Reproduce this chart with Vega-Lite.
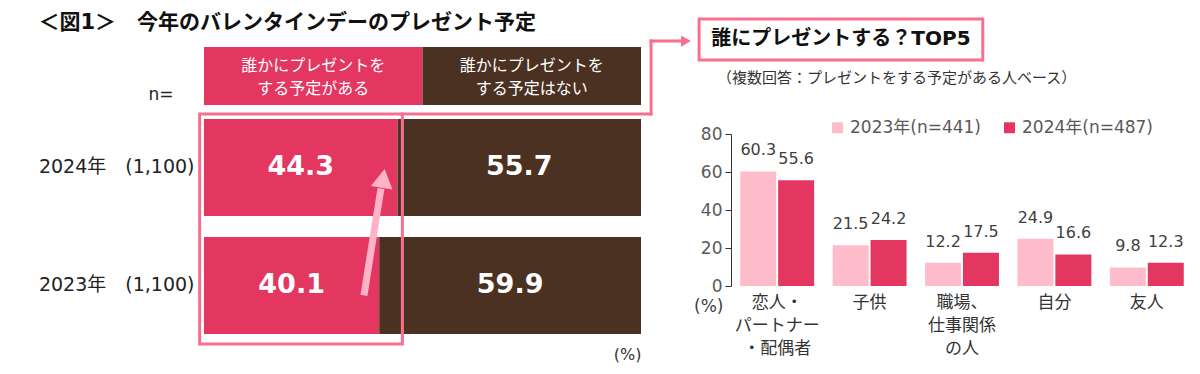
{
  "$schema": "https://vega.github.io/schema/vega-lite/v6.json",
  "padding": {"left": 38, "top": 12, "right": 4, "bottom": 4},
  "config": {
    "font": "DejaVu Sans, Noto Sans CJK JP",
    "view": {"stroke": null}
  },
  "datasets": {
    "share": [
      {"year": "2024年　(1,100)", "answer": "誰かにプレゼントを\nする予定がある", "value": 44.3},
      {"year": "2024年　(1,100)", "answer": "誰かにプレゼントを\nする予定はない", "value": 55.7},
      {"year": "2023年　(1,100)", "answer": "誰かにプレゼントを\nする予定がある", "value": 40.1},
      {"year": "2023年　(1,100)", "answer": "誰かにプレゼントを\nする予定はない", "value": 59.9}
    ],
    "top5": [
      {"who": "恋人・ パートナー ・配偶者", "year": "2023年(n=441)", "value": 60.3},
      {"who": "恋人・ パートナー ・配偶者", "year": "2024年(n=487)", "value": 55.6},
      {"who": "子供", "year": "2023年(n=441)", "value": 21.5},
      {"who": "子供", "year": "2024年(n=487)", "value": 24.2},
      {"who": "職場、 仕事関係 の人", "year": "2023年(n=441)", "value": 12.2},
      {"who": "職場、 仕事関係 の人", "year": "2024年(n=487)", "value": 17.5},
      {"who": "自分", "year": "2023年(n=441)", "value": 24.9},
      {"who": "自分", "year": "2024年(n=487)", "value": 16.6},
      {"who": "友人", "year": "2023年(n=441)", "value": 9.8},
      {"who": "友人", "year": "2024年(n=487)", "value": 12.3}
    ]
  },
  "resolve": {"scale": {"color": "independent"}, "legend": {"color": "independent"}},
  "spacing": 2,
  "hconcat": [
    {
      "title": {"text": "＜図1＞　今年のバレンタインデーのプレゼント予定", "anchor": "start", "fontSize": 21, "fontWeight": "bold", "color": "#111111", "offset": 2},
      "spacing": 9,
      "bounds": "flush",
      "vconcat": [
        {
          "width": 437,
          "height": 58,
          "data": {"name": "share"},
          "transform": [{"filter": "datum.year == '2024年　(1,100)'"}],
          "encoding": {
            "x": {"field": "answer", "type": "nominal", "sort": "ascending", "scale": {"paddingInner": 0, "paddingOuter": 0}, "axis": null}
          },
          "layer": [
            {
              "mark": {"type": "bar"},
              "encoding": {
                "color": {"field": "answer", "type": "nominal", "scale": {"domain": ["誰かにプレゼントを\nする予定がある", "誰かにプレゼントを\nする予定はない"], "range": ["#E33762", "#4A3121"]}, "legend": null}
              }
            },
            {
              "mark": {"type": "text", "lineBreak": "\n", "fontSize": 16, "lineHeight": 23, "dy": -10, "color": "white", "font": "Noto Sans CJK JP"},
              "encoding": {
                "text": {"field": "answer"},
                "y": {"datum": "n=", "type": "nominal", "axis": {"title": null, "domain": false, "ticks": false, "labelFontSize": 17, "labelColor": "#222222", "labelPadding": 31, "labelOffset": 18}}
              }
            }
          ]
        },
        {
          "width": 437,
          "height": 230,
          "resolve": {"scale": {"y": "independent"}},
          "layer": [
            {
              "data": {"name": "share"},
              "transform": [{"stack": "value", "groupby": ["year"], "sort": [{"field": "answer", "order": "ascending"}], "as": ["v0", "v1"]}],
              "layer": [
                {
                  "mark": {"type": "bar"},
                  "encoding": {
                    "y": {"field": "year", "type": "nominal", "sort": ["2024年　(1,100)", "2023年　(1,100)"], "scale": {"paddingInner": 0.178, "paddingOuter": 0.064, "align": 0.33}, "axis": {"title": null, "domain": false, "ticks": false, "labelFontSize": 19, "labelColor": "#222222", "labelPadding": 10}},
                    "x": {"field": "v0", "type": "quantitative", "scale": {"domain": [0, 100], "nice": false}, "axis": {"title": "(%)", "labels": false, "ticks": false, "domain": false, "grid": false, "titleAnchor": "end", "titleFontWeight": "normal", "titleFontSize": 16, "titleColor": "#333333", "titlePadding": 2}},
                    "x2": {"field": "v1"},
                    "color": {"field": "answer", "type": "nominal", "scale": {"domain": ["誰かにプレゼントを\nする予定がある", "誰かにプレゼントを\nする予定はない"], "range": ["#E33762", "#4A3121"]}, "legend": null}
                  }
                },
                {
                  "transform": [{"fold": ["v0", "v1"], "as": ["edge", "pos"]}],
                  "mark": {"type": "text", "fontSize": 27, "fontWeight": "bold", "color": "white"},
                  "encoding": {
                    "y": {"field": "year", "type": "nominal", "sort": ["2024年　(1,100)", "2023年　(1,100)"]},
                    "x": {"field": "pos", "type": "quantitative", "aggregate": "mean"},
                    "detail": {"field": "answer", "type": "nominal"},
                    "text": {"field": "value", "aggregate": "max", "type": "quantitative", "format": ".1f"}
                  }
                },
                {
                  "data": {"values": [{}]},
                  "mark": {"type": "rect", "filled": false, "stroke": "#F7708F", "strokeWidth": 3},
                  "encoding": {"x": {"datum": -1.0}, "x2": {"datum": 45.4}}
                },
                {
                  "data": {"values": [{}]},
                  "mark": {"type": "rule", "strokeWidth": 7, "color": "#FFB3C6", "yOffset": 10, "y2Offset": 21},
                  "encoding": {
                    "x": {"datum": 36.6}, "x2": {"datum": 40.5},
                    "y": {"datum": "2023年　(1,100)", "type": "nominal"},
                    "y2": {"datum": "2024年　(1,100)"}
                  }
                },
                {
                  "data": {"values": [{}]},
                  "mark": {"type": "point", "shape": "triangle-up", "filled": true, "opacity": 1, "size": 480, "angle": 9, "color": "#FFB3C6", "yOffset": 11},
                  "encoding": {
                    "x": {"datum": 41.0},
                    "y": {"datum": "2024年　(1,100)", "type": "nominal"}
                  }
                }
              ]
            },
            {
              "data": {"values": [{}]},
              "layer": [
                {
                  "mark": {"type": "rule", "strokeWidth": 3, "color": "#F7708F", "strokeCap": "square"},
                  "encoding": {"x": {"datum": 45.4}, "x2": {"datum": 102.3}, "y": {"datum": 1, "type": "quantitative", "scale": {"domain": [0, 1]}, "axis": null}}
                },
                {
                  "mark": {"type": "rule", "strokeWidth": 3, "color": "#F7708F", "strokeCap": "square"},
                  "encoding": {"x": {"datum": 102.3}, "y": {"datum": 1, "type": "quantitative"}, "y2": {"datum": 1.317}}
                },
                {
                  "mark": {"type": "rule", "strokeWidth": 3, "color": "#F7708F", "strokeCap": "square"},
                  "encoding": {"x": {"datum": 102.3}, "x2": {"datum": 109.5}, "y": {"datum": 1.317, "type": "quantitative"}}
                },
                {
                  "mark": {"type": "point", "shape": "triangle-right", "filled": true, "opacity": 1, "size": 130, "color": "#F7708F"},
                  "encoding": {"x": {"datum": 110.3}, "y": {"datum": 1.317, "type": "quantitative"}}
                }
              ]
            }
          ]
        }
      ]
    },
    {
      "spacing": 9,
      "resolve": {"legend": {"color": "independent"}},
      "vconcat": [
        {
          "width": 462,
          "height": 13,
          "data": {"values": [{}]},
          "layer": [
            {
              "mark": {"type": "rect", "filled": false, "stroke": "#F7708F", "strokeWidth": 3},
              "encoding": {
                "x": {"datum": -0.069, "type": "quantitative", "scale": {"domain": [0, 1]}, "axis": null},
                "x2": {"datum": 0.545},
                "y": {"datum": 0, "type": "quantitative", "scale": {"domain": [0, 1]}, "axis": null},
                "y2": {"datum": 3.154}
              }
            },
            {
              "mark": {"type": "text", "fontSize": 20, "fontWeight": "bold", "color": "#111111"},
              "encoding": {
                "x": {"datum": 0.238, "type": "quantitative"},
                "y": {"datum": 1.577, "type": "quantitative"},
                "text": {"value": "誰にプレゼントする？TOP5"}
              }
            }
          ]
        },
        {
          "title": {"text": "（複数回答：プレゼントをする予定がある人ベース）", "anchor": "start", "frame": "group", "dx": -14, "fontSize": 15, "fontWeight": "normal", "color": "#333333", "offset": 33},
          "width": 462,
          "height": 152,
          "data": {"name": "top5"},
          "encoding": {
            "x": {"field": "who", "type": "nominal", "sort": null, "scale": {"paddingInner": 0.2, "paddingOuter": 0.1}, "axis": {"title": null, "labelAngle": 0, "domain": false, "ticks": false, "labelExpr": "split(datum.value, ' ')", "labelFontSize": 17, "labelColor": "#333333", "labelLineHeight": 23, "labelPadding": 8, "labelBaseline": "top"}},
            "xOffset": {"field": "year", "type": "nominal", "scale": {"paddingInner": 0.05}},
            "y": {"field": "value", "type": "quantitative", "scale": {"domain": [0, 80], "nice": false}, "axis": {"values": [0, 20, 40, 60, 80], "grid": false, "domain": true, "domainColor": "#333333", "ticks": true, "tickColor": "#333333", "tickSize": 6, "labelPadding": 3, "labelFontSize": 17, "labelColor": "#595959", "title": "(%)", "titleAngle": 0, "titleAlign": "right", "titleBaseline": "middle", "titleX": -8, "titleY": 172, "titleFontWeight": "normal", "titleFontSize": 17, "titleColor": "#404040"}}
          },
          "layer": [
            {
              "mark": {"type": "bar"},
              "encoding": {
                "color": {"field": "year", "type": "nominal", "scale": {"domain": ["2023年(n=441)", "2024年(n=487)"], "range": ["#FFBDCB", "#E33762"]}, "legend": {"orient": "none", "legendX": 98, "legendY": -15, "direction": "horizontal", "title": null, "symbolType": "square", "symbolSize": 120, "symbolStrokeWidth": 0, "labelFontSize": 17, "labelColor": "#595959", "columnPadding": 20}}
              }
            },
            {
              "mark": {"type": "text", "baseline": "alphabetic", "dy": -16, "fontSize": 16, "color": "#404040"},
              "encoding": {"text": {"field": "value", "format": ".1f"}}
            }
          ]
        }
      ]
    }
  ]
}
